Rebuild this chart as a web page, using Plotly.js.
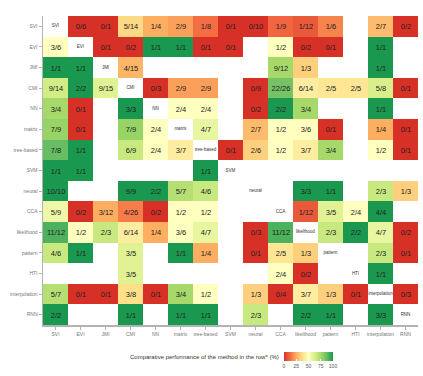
<!DOCTYPE html>
<html>
<head>
<meta charset="utf-8">
<script src="https://cdn.plot.ly/plotly-3.0.1.min.js"></script>
<style>
  html, body { margin: 0; padding: 0; background: #fff; }
  #chart { width: 423px; height: 376px; }
</style>
</head>
<body>
<div id="chart"></div>
<script>
// Methods, in row (top to bottom) and column (left to right) order
const methods = ['SVI', 'EVI', 'JMI', 'CMI', 'NN', 'matrix', 'tree-based', 'SVM',
                 'neural', 'CCA', 'likelihood', 'pattern', 'HTI', 'interpolation', 'RNN'];

// wins/comparisons of the row method against the column method
// '' = never compared, '-' = the method itself
const rowSVI          = ['-', '0/6', '0/1', '5/14', '1/4', '2/9', '1/8', '0/1', '0/10', '1/9', '1/12', '1/6', '', '2/7', '0/2'];
const rowEVI          = ['3/6', '-', '0/1', '0/2', '1/1', '1/1', '0/1', '0/1', '', '1/2', '0/2', '0/1', '', '1/1', ''];
const rowJMI          = ['1/1', '1/1', '-', '4/15', '', '', '', '', '', '9/12', '1/3', '', '', '1/1', ''];
const rowCMI          = ['9/14', '2/2', '9/15', '-', '0/3', '2/9', '2/9', '', '0/9', '22/26', '6/14', '2/5', '2/5', '5/8', '0/1'];
const rowNN           = ['3/4', '0/1', '', '3/3', '-', '2/4', '2/4', '', '0/2', '2/2', '3/4', '', '', '1/1', ''];
const rowMatrix       = ['7/9', '0/1', '', '7/9', '2/4', '-', '4/7', '', '2/7', '1/2', '3/6', '0/1', '', '1/4', '0/1'];
const rowTree         = ['7/8', '1/1', '', '6/9', '2/4', '3/7', '-', '0/1', '2/6', '1/2', '3/7', '3/4', '', '1/2', '0/1'];
const rowSVM          = ['1/1', '1/1', '', '', '', '', '1/1', '-', '', '', '', '', '', '', ''];
const rowNeural       = ['10/10', '', '', '9/9', '2/2', '5/7', '4/6', '', '-', '', '3/3', '1/1', '', '2/3', '1/3'];
const rowCCA          = ['5/9', '0/2', '3/12', '4/26', '0/2', '1/2', '1/2', '', '', '-', '1/12', '3/5', '2/4', '4/4', ''];
const rowLikelihood   = ['11/12', '1/2', '2/3', '6/14', '1/4', '3/6', '4/7', '', '0/3', '11/12', '-', '2/3', '2/2', '4/7', '0/2'];
const rowPattern      = ['4/6', '1/1', '', '3/5', '', '1/1', '1/4', '', '0/1', '2/5', '1/3', '-', '', '2/3', '0/1'];
const rowHTI          = ['', '', '', '3/5', '', '', '', '', '', '2/4', '0/2', '', '-', '1/1', ''];
const rowInterpolation = ['5/7', '0/1', '0/1', '3/8', '0/1', '3/4', '1/2', '', '1/3', '0/4', '3/7', '1/3', '0/1', '-', '0/3'];
const rowRNN          = ['2/2', '', '', '1/1', '', '1/1', '1/1', '', '2/3', '', '2/2', '1/1', '', '3/3', '-'];

const rows = [rowSVI, rowEVI, rowJMI, rowCMI, rowNN, rowMatrix, rowTree, rowSVM, rowNeural,
              rowCCA, rowLikelihood, rowPattern, rowHTI, rowInterpolation, rowRNN];

const legendTicks = [0, 25, 50, 75, 100];

// RdYlGn
const palette = ['#d73027', '#f46d43', '#fdae61', '#fee08b', '#ffffbf',
                 '#d9ef8b', '#a6d96a', '#66bd63', '#1a9850'];

function pct(s) {
    if (!s || s === '-') return null;
    const p = s.split('/');
    return 100 * Number(p[0]) / Number(p[1]);
}

const z = rows.map(r => r.map(pct));
const txt = rows.map(r => r.map(s => (s === '-' ? '' : s)));

const W = 423, H = 376;
const mL = 43, mR = 5, mT = 16, mB = 51;
const pw = W - mL - mR, ph = H - mT - mB;
const px = x => (x - mL) / pw;
const py = y => (H - mB - y) / ph;

const font = 'Liberation Sans, Arial, sans-serif';

const heat = {
    type: 'heatmap',
    x: methods,
    y: methods,
    z: z,
    text: txt,
    texttemplate: '%{text}',
    textfont: { family: font, size: 7.5, color: '#222' },
    zmin: 0,
    zmax: 100,
    colorscale: palette.map((c, i) => [i / (palette.length - 1), c]),
    hoverinfo: 'skip',
    colorbar: {
        orientation: 'h',
        thickness: 9,
        thicknessmode: 'pixels',
        len: 49,
        lenmode: 'pixels',
        x: px(284),
        xanchor: 'left',
        y: py(352),
        yanchor: 'top',
        xpad: 0,
        ypad: 0,
        outlinewidth: 0,
        tickvals: legendTicks,
        ticks: 'inside',
        ticklen: 2,
        tickcolor: '#ffffff',
        tickfont: { family: font, size: 5, color: '#555' }
    }
};

// method names on the diagonal
const diag = {
    type: 'scatter',
    mode: 'text',
    x: methods,
    y: methods,
    text: methods,
    textfont: { family: font, size: 4.5, color: '#333' },
    hoverinfo: 'skip',
    showlegend: false
};

const axisStyle = {
    type: 'category',
    showgrid: false,
    zeroline: false,
    showline: true,
    linecolor: '#b3b3b3',
    linewidth: 1.5,
    ticks: 'outside',
    ticklen: 3,
    tickcolor: '#b3b3b3',
    tickfont: { family: font, size: 5, color: '#777' },
    fixedrange: true
};

const layout = {
    width: W,
    height: H,
    margin: { l: mL, r: mR, t: mT, b: mB },
    paper_bgcolor: '#ffffff',
    plot_bgcolor: '#ffffff',
    showlegend: false,
    xaxis: Object.assign({}, axisStyle, {
        categoryorder: 'array', categoryarray: methods, range: [-0.5, 14.5]
    }),
    yaxis: Object.assign({}, axisStyle, {
        categoryorder: 'array', categoryarray: methods, range: [14.5, -0.5]
    }),
    annotations: [{
        text: 'Comparative performance of the method in the row* (%)',
        xref: 'paper', yref: 'paper',
        x: px(281), y: py(357),
        xanchor: 'right', yanchor: 'middle',
        showarrow: false,
        font: { family: font, size: 6, color: '#333' }
    }]
};

Plotly.newPlot('chart', [heat, diag], layout, { staticPlot: true, displayModeBar: false });
</script>
</body>
</html>
